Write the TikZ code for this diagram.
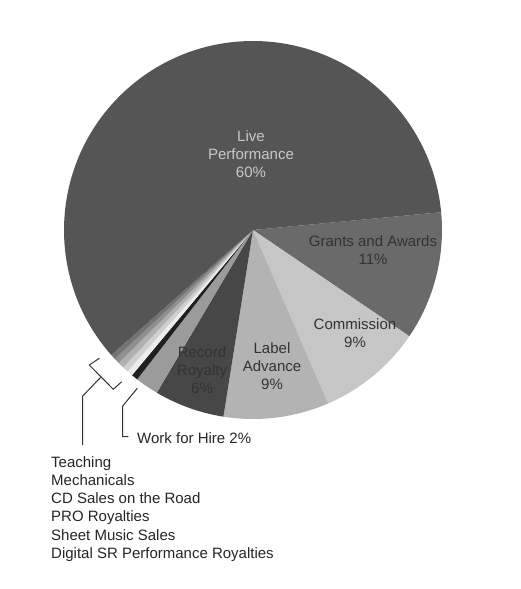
\documentclass[tikz,border=0pt]{standalone}
\usepackage{fontspec}
\setmainfont{Liberation Sans}
\definecolor{cLive}{HTML}{555555}
\definecolor{cGrant}{HTML}{6A6A6A}
\definecolor{cComm}{HTML}{C6C6C6}
\definecolor{cLabel}{HTML}{B3B3B3}
\definecolor{cRec}{HTML}{474747}
\definecolor{cWfh}{HTML}{9B9B9B}
\definecolor{cS1}{HTML}{1F1F1F}
\definecolor{cS2}{HTML}{ECECEC}
\definecolor{cS3}{HTML}{CFCFCF}
\definecolor{cS4}{HTML}{B0B0B0}
\definecolor{cS5}{HTML}{8F8F8F}
\definecolor{cS6}{HTML}{747474}
\definecolor{txtDark}{HTML}{333333}
\definecolor{txtLight}{HTML}{C8C8C8}
\definecolor{leader}{HTML}{333333}
\begin{document}
\begin{tikzpicture}[x=1pt,y=-1pt,
  lbl/.style={font=\fontsize{15}{18.2}\selectfont, align=center, inner sep=0pt, text=txtDark},
  leaderline/.style={draw=leader, line width=1pt}]
\useasboundingbox (0,0) rectangle (521,589);
\fill[white] (0,0) rectangle (521,589);
\coordinate (C) at (253,230);
\def\R{189}
\newcommand{\slice}[3]{\fill[#3] (C) -- ++(#1:\R) arc[start angle=#1, end angle=#2, radius=\R] -- cycle;}
\slice{-5.4}{34.2}{cGrant}
\slice{34.2}{66.6}{cComm}
\slice{66.6}{99}{cLabel}
\slice{99}{120.6}{cRec}
\slice{120.6}{127.8}{cWfh}
\slice{127.8}{129.8}{cS1}
\slice{129.8}{131.6}{cS2}
\slice{131.6}{133.4}{cS3}
\slice{133.4}{135.3}{cS4}
\slice{135.3}{137.0}{cS5}
\slice{137.0}{138.6}{cS6}
\slice{138.6}{354.6}{cLive}
% labels
\node[lbl, text=txtLight] (live) at (251,154) {Live\\Performance\\60\%};
\node[lbl] (grants) at (373,250) {Grants and Awards\\11\%};
\node[lbl] (comm) at (355,333) {Commission\\9\%};
\node[lbl] (labadv) at (272,366) {Label\\Advance\\9\%};
\node[lbl, text=black!80] (rec) at (202,370) {Record\\Royalty\\6\%};
\node[lbl, anchor=west, text=black!85] (wfh) at (137,438) {Work for Hire 2\%};
\node[lbl, anchor=west, align=left, text=black!85] (list) at (51,509) {Teaching\\Mechanicals\\CD Sales on the Road\\PRO Royalties\\Sheet Music Sales\\Digital SR Performance Royalties};
% bracket for small slices
\coordinate (b1) at (99.3,358.3);
\coordinate (b2) at (89.3,365);
\coordinate (b3) at (113.3,389.3);
\coordinate (b4) at (121.7,381.7);
\coordinate (bm) at (100.7,377.3);
\coordinate (bk) at (82.7,396);
\coordinate (bl) at (82.7,445);
\draw[leaderline] (b1) -- (b2) -- (b3) -- (b4);
\draw[leaderline] (bm) -- (bk) -- (bl);
% work for hire leader
\coordinate (w1) at (137.3,388.3);
\coordinate (w2) at (122.7,406);
\coordinate (w3) at (122.7,436.7);
\coordinate (w4) at (128.3,436.7);
\draw[leaderline] (w1) -- (w2) -- (w3) -- (w4);
\end{tikzpicture}
\end{document}
